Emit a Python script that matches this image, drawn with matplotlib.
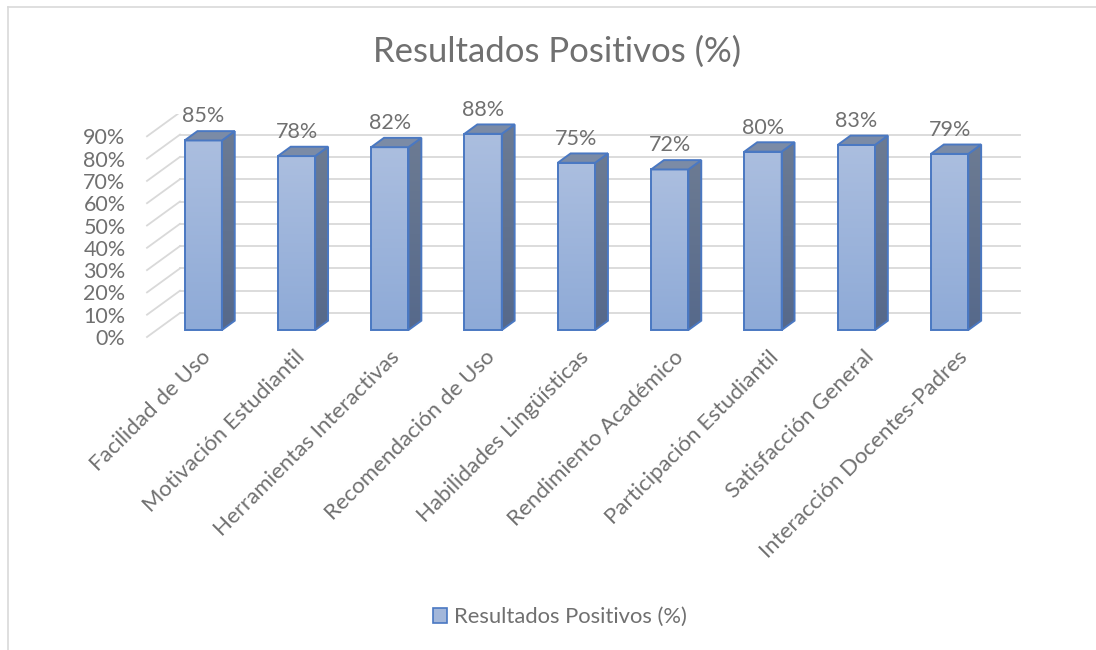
import matplotlib
matplotlib.use("Agg")
import matplotlib.pyplot as plt
import numpy as np
from matplotlib.patches import Polygon, Patch
from matplotlib.lines import Line2D

plt.rcParams["font.family"] = ["Lato", "DejaVu Sans"]

categories = ["Facilidad de Uso", "Motivación Estudiantil", "Herramientas Interactivas",
              "Recomendación de Uso", "Habilidades Lingüísticas", "Rendimiento Académico",
              "Participación Estudiantil", "Satisfacción General", "Interacción Docentes-Padres"]
values = [85, 78, 82, 88, 75, 72, 80, 83, 79]
y_ticks = [0, 10, 20, 30, 40, 50, 60, 70, 80, 90]
title = "Resultados Positivos (%)"

TEXT = "#707070"
GRID = "#d9d9d9"
EDGE = "#4a78c2"

W, H = 1096, 650
PX_X = 93.3     # pixels per category
PX_Y = 2.23     # pixels per percent
X0, Y0 = 147, 337  # pixel of front-plane origin
DX, DY = 33 / PX_X, 24 / PX_Y   # depth vector (data units)
D0, D1 = 0.29, 0.68              # bar depth range
BW = 0.4

fig = plt.figure(figsize=(W / 100, H / 100), dpi=100)
xlim = (-0.2, 9.5)
ylim = (-4.5, 100)
left_px = X0 + xlim[0] * PX_X
bot_px = Y0 - ylim[0] * PX_Y
ax = fig.add_axes([left_px / W, 1 - bot_px / H,
                   (xlim[1] - xlim[0]) * PX_X / W, (ylim[1] - ylim[0]) * PX_Y / H])
ax.set_xlim(xlim)
ax.set_ylim(ylim)
for s in ax.spines.values():
    s.set_visible(False)

n = len(categories)
# back wall and side wall gridlines
for t in y_ticks:
    ax.plot([DX, n + DX], [t + DY, t + DY], color=GRID, lw=1.3, zorder=1)
    ax.plot([0, DX], [t, t + DY], color=GRID, lw=1.3, zorder=1)

ax.set_yticks(y_ticks)
ax.set_yticklabels([f"{t}%" for t in y_ticks], color=TEXT, fontsize=15.5)
ax.tick_params(axis="y", length=0, pad=2)

# front floor edge widens slightly in the reference (perspective)
ax.set_xticks([0.57 + i * 1.015 for i in range(n)])
ax.set_xticklabels(categories, rotation=45, ha="right", va="top",
                   rotation_mode="anchor", color=TEXT, fontsize=16)
ax.tick_params(axis="x", length=0, pad=0)

x_front = [i + 0.5 + D0 * DX for i in range(n)]
bottom = D0 * DY
bars = ax.bar(x_front, values, width=BW, bottom=bottom, color="none",
              edgecolor=EDGE, linewidth=1.4, zorder=4)

grad = np.linspace(0, 1, 100).reshape(-1, 1)
cmap_front = matplotlib.colors.LinearSegmentedColormap.from_list("f", ["#8eaad7", "#abbedf"])
cmap_side = matplotlib.colors.LinearSegmentedColormap.from_list("s", ["#56698b", "#6c7b93"])
ddx, ddy = (D1 - D0) * DX, (D1 - D0) * DY

for bar, v in zip(bars, values):
    l = bar.get_x()
    r = l + bar.get_width()
    top = bottom + v
    im = ax.imshow(grad, cmap=cmap_front, origin="lower", aspect="auto",
                   extent=[l, r, bottom, top], zorder=3)
    im.set_clip_path(bar)
    side = Polygon([(r, bottom), (r + ddx, bottom + ddy), (r + ddx, top + ddy), (r, top)],
                   closed=True, facecolor="none", edgecolor=EDGE, lw=1.4, zorder=4)
    ax.add_patch(side)
    ims = ax.imshow(grad, cmap=cmap_side, origin="lower", aspect="auto",
                    extent=[r, r + ddx, bottom, top + ddy], zorder=3)
    ims.set_clip_path(side)
    cap = Polygon([(l, top), (r, top), (r + ddx, top + ddy), (l + ddx, top + ddy)],
                  closed=True, facecolor="#7b8ba6", edgecolor=EDGE, lw=1.4, zorder=4)
    ax.add_patch(cap)
    ax.text(bar.get_x() + BW / 2, top + 10.8, f"{v}%", ha="center", va="center",
            color=TEXT, fontsize=15.5)

fig.text(0.508, 1 - 52 / H, title, ha="center", va="center", color=TEXT, fontsize=25)

handle = Patch(facecolor="#a3b7da", edgecolor=EDGE, linewidth=1.2)
fig.legend([handle], [title], loc="center", bbox_to_anchor=(560 / W, 1 - 617 / H),
           frameon=False, fontsize=15.8, handlelength=0.65, handleheight=0.65,
           handletextpad=0.3, labelcolor=TEXT)

# chart border (left and top)
fig.add_artist(Line2D([7.5 / W, 7.5 / W], [0, 1 - 6.5 / H], color=GRID, lw=1.2))
fig.add_artist(Line2D([7.5 / W, 1], [1 - 6.5 / H, 1 - 6.5 / H], color=GRID, lw=1.2))

fig.savefig("out.png", dpi=100)
